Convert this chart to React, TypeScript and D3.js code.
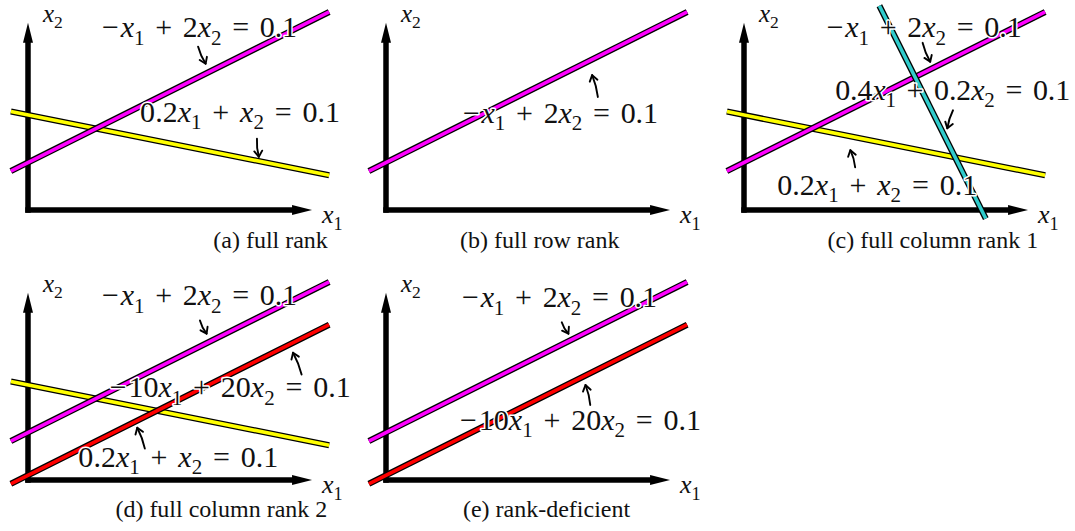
import React from 'react'
import * as d3 from 'd3'

// line coefficients: a*x1 + b*x2 = c
const lineNames = ['magenta', 'yellow', 'cyan', 'red']
const coefA = [-1, 0.2, 0.4, -10]
const coefB = [2, 1, 0.2, 20]
const rhs = [0.1, 0.1, 0.1, 0.1]
const equations = ['-x_1 + 2x_2 = 0.1', '0.2x_1 + x_2 = 0.1', '0.4x_1 + 0.2x_2 = 0.1', '-10x_1 + 20x_2 = 0.1']

const captions = ['(a) full rank', '(b) full row rank', '(c) full column rank 1', '(d) full column rank 2', '(e) rank-deficient']
// which lines appear in each panel (drawing order)
const panelLines = [[1, 0], [0], [1, 0, 2], [1, 0, 3], [0, 3]]

// annotations, in data units: [line, labelX1, labelX2, tailX1, tailX2, tipX1, tipX2]
const panelLabels = [
  [[0, 0.078, 0.182, 0.179, 0.172, 0.187, 0.154], [1, 0.118, 0.093, 0.241, 0.075, 0.243, 0.056]],
  [[0, 0.081, 0.092, 0.223, 0.119, 0.217, 0.142]],
  [[0, 0.087, 0.182, 0.188, 0.176, 0.196, 0.156], [2, 0.096, 0.116, 0.220, 0.105, 0.214, 0.086], [1, 0.035, 0.016, 0.117, 0.045, 0.112, 0.063]],
  [[0, 0.078, 0.184, 0.181, 0.168, 0.188, 0.154], [3, 0.086, 0.087, 0.288, 0.111, 0.279, 0.134], [1, 0.053, 0.014, 0.123, 0.033, 0.115, 0.055]],
  [[0, 0.080, 0.182, 0.185, 0.166, 0.192, 0.154], [3, 0.078, 0.053, 0.215, 0.079, 0.210, 0.100]],
]
// caption position in data units (start, baseline)
const captionPos = [[0.195, -0.040], [0.078, -0.040], [0.088, -0.040], [0.092, -0.039], [0.081, -0.039]]

// layout
const origins = [[28, 210], [386, 210], [744, 210], [28, 480], [386, 480]]
const K = 950 // px per unit
const colors: Record<string, string> = { magenta: '#ff00ff', yellow: '#ffff00', cyan: '#30cccc', red: '#ff0000' }
const labelWidths = [195, 200, 235, 241]
const FONT = '"Liberation Serif", "Times New Roman", serif'
const clip = { x0: -0.018, x1: 0.317, y0: -0.009, y1: 0.215 }

function segment(a: number, b: number, c: number) {
  // x2 = (c - a x1)/b, clip x1 so that x2 stays inside the box
  const f = (t: number) => (c - a * t) / b
  let lo = clip.x0, hi = clip.x1
  const xa = (c - b * clip.y0) / a, xb = (c - b * clip.y1) / a
  lo = Math.max(lo, Math.min(xa, xb))
  hi = Math.min(hi, Math.max(xa, xb))
  return [[lo, f(lo)], [hi, f(hi)]]
}

type Seg = { t: string, italic: boolean, sub: boolean, gap: number }

function parseEq(s: string, size: number) {
  const segs: Seg[] = []
  let gap = 0
  for (let i = 0; i < s.length; i++) {
    let ch = s[i]
    if (ch === ' ') { gap += size * 0.36; continue }
    let sub = false
    if (ch === '_') { sub = true; i++; ch = s[i] }
    if (ch === '-') ch = '\u2212'
    const italic = ch === 'x'
    const last = segs[segs.length - 1]
    if (last && gap === 0 && last.italic === italic && last.sub === sub) last.t += ch
    else segs.push({ t: ch, italic, sub, gap })
    gap = 0
    if (ch === '\u2212' && i === 0) gap = size * 0.06
  }
  return segs
}

function MathText({ x, y, text, size, width }: { x: number, y: number, text: string, size: number, width?: number }) {
  const segs = parseEq(text, size)
  let shift = 0
  return (
    <text x={x} y={y} fontSize={size} fontFamily={FONT} textLength={width} lengthAdjust={width ? 'spacing' : undefined}
      fill="#111" stroke="#fff" strokeWidth={3} strokeLinejoin="round" paintOrder="stroke">
      {segs.map((s, i) => {
        const target = s.sub ? size * 0.25 : 0
        const dy = target - shift
        shift = target
        return <tspan key={i} dx={s.gap || undefined} dy={dy || undefined} fontStyle={s.italic ? 'italic' : 'normal'} fontSize={s.sub ? size * 0.7 : size}>{s.t}</tspan>
      })}
    </text>
  )
}

function SmallArrow({ tail, tip }: { tail: number[], tip: number[] }) {
  const dx = tip[0] - tail[0], dy = tip[1] - tail[1]
  const len = Math.hypot(dx, dy)
  const ux = dx / len, uy = dy / len
  const cx = (tail[0] + tip[0]) / 2 - uy * 1.5, cy = (tail[1] + tip[1]) / 2 + ux * 1.5
  const barb = (ang: number) => {
    const c = Math.cos(ang), s = Math.sin(ang)
    return [tip[0] - 7 * (ux * c - uy * s), tip[1] - 7 * (ux * s + uy * c)]
  }
  const b1 = barb(0.6), b2 = barb(-0.6)
  return (
    <g fill="none" stroke="#000" strokeWidth={1.9} strokeLinecap="round" strokeLinejoin="round">
      <path d={`M${tail[0]},${tail[1]}Q${cx},${cy} ${tip[0]},${tip[1]}`} />
      <path d={`M${b1[0]},${b1[1]}L${tip[0]},${tip[1]}L${b2[0]},${b2[1]}`} />
    </g>
  )
}

function Panel({ idx }: { idx: number }) {
  const [ox, oy] = origins[idx]
  const x = d3.scaleLinear().domain([0, 0.3]).range([ox, ox + 0.3 * K])
  const y = d3.scaleLinear().domain([0, 0.2]).range([oy, oy - 0.2 * K])
  const line = d3.line<number[]>().x(d => x(d[0])).y(d => y(d[1]))
  const tipY = y(0.197), tipX = x(0.299)
  const hl = 20, hw = 5
  return (
    <g>
      {/* axes */}
      <line x1={ox} y1={oy + 2.75} x2={ox} y2={tipY + hl - 1} stroke="#000" strokeWidth={5.5} />
      <line x1={ox - 2.75} y1={oy} x2={tipX - hl + 1} y2={oy} stroke="#000" strokeWidth={5.5} />
      <path d={`M${ox},${tipY}L${ox - hw},${tipY + hl}L${ox + hw},${tipY + hl}Z`} fill="#000" />
      <path d={`M${tipX},${oy}L${tipX - hl},${oy - hw}L${tipX - hl},${oy + hw}Z`} fill="#000" />
      <MathText x={ox + 15} y={oy - 188} text="x_2" size={25} />
      <MathText x={ox + 294} y={oy + 13} text="x_1" size={26} />
      {/* lines */}
      {panelLines[idx].map(li => {
        const pts = segment(coefA[li], coefB[li], rhs[li])
        const d = line(pts) || ''
        return (
          <g key={li}>
            <path d={d} stroke="#000" strokeWidth={6.2} fill="none" />
            <path d={d} stroke={colors[lineNames[li]]} strokeWidth={3.6} fill="none" />
          </g>
        )
      })}
      {/* labels */}
      {panelLabels[idx].map((l, i) => (
        <g key={i}>
          <SmallArrow tail={[x(l[3]), y(l[4])]} tip={[x(l[5]), y(l[6])]} />
          <MathText x={x(l[1])} y={y(l[2])} text={equations[l[0]]} size={30} width={labelWidths[l[0]]} />
        </g>
      ))}
      <text x={x(captionPos[idx][0])} y={y(captionPos[idx][1])} fontFamily={FONT} fontSize={24} fill="#111">{captions[idx]}</text>
    </g>
  )
}

export default function App() {
  return (
    <svg width={1075} height={531} style={{ position: 'absolute', left: 0, top: 0, background: '#fff' }}>
      {captions.map((_, i) => <Panel key={i} idx={i} />)}
    </svg>
  )
}
